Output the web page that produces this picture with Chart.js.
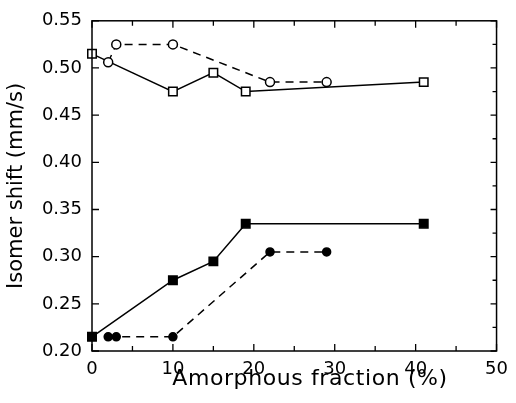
<!DOCTYPE html>
<html>
<head>
<meta charset="utf-8">
<script src="https://cdn.jsdelivr.net/npm/chart.js@4/dist/chart.umd.min.js"></script>
<style>
  html, body { margin: 0; padding: 0; background: #fff; }
  #wrap { width: 516px; height: 403px; }
</style>
</head>
<body>
<div id="wrap"><canvas id="chart" width="516" height="403"></canvas></div>
<script>
// Данные графика: аморфная доля (%) и изомерный сдвиг (мм/с)
const openSquareX = [0, 10, 15, 19, 41];
const openSquareY = [0.515, 0.475, 0.495, 0.475, 0.485];

const openCircleX = [2, 3, 10, 22, 29];
const openCircleY = [0.506, 0.525, 0.525, 0.485, 0.485];

const filledSquareX = [0, 10, 15, 19, 41];
const filledSquareY = [0.215, 0.275, 0.295, 0.335, 0.335];

const filledCircleX = [2, 3, 10, 22, 29];
const filledCircleY = [0.215, 0.215, 0.215, 0.305, 0.305];

const xTicks = [0, 10, 20, 30, 40, 50];
const yTicks = [0.20, 0.25, 0.30, 0.35, 0.40, 0.45, 0.50, 0.55];

const xTitle = 'Amorphous fraction (%)';
const yTitle = 'Isomer shift (mm/s)';

const FONT = 'DejaVu Sans';

function toPoints(xs, ys) {
  return xs.map((x, i) => ({ x: x, y: ys[i] }));
}

function makeSeries(xs, ys, style, filled, dashed) {
  return {
    data: toPoints(xs, ys),
    showLine: true,
    borderColor: '#000',
    borderWidth: 1.5,
    borderDash: dashed ? [8, 6] : [],
    pointStyle: style,
    pointRadius: style === 'rect' ? 6 : (filled ? 4 : 4.5),
    pointBorderWidth: 1.5,
    pointBorderColor: '#000',
    pointBackgroundColor: filled ? '#000' : '#fff',
    clip: false
  };
}

// Белый фон, рамка, внутренние засечки и подпись оси X
const framePlugin = {
  id: 'frame',
  beforeDraw(chart) {
    const ctx = chart.ctx;
    ctx.save();
    ctx.fillStyle = '#fff';
    ctx.fillRect(0, 0, chart.width, chart.height);
    ctx.restore();
  },
  afterDraw(chart) {
    const ctx = chart.ctx;
    const a = chart.chartArea;
    const xs = chart.scales.x;
    const ys = chart.scales.y;
    ctx.save();
    ctx.strokeStyle = '#000';
    ctx.lineWidth = 1.5;
    ctx.strokeRect(a.left, a.top, a.right - a.left, a.bottom - a.top);

    ctx.lineWidth = 1.3;
    ctx.beginPath();
    for (let v = 0; v <= 50; v += 5) {
      const px = xs.getPixelForValue(v);
      const len = v % 10 === 0 ? 7 : 5;
      ctx.moveTo(px, a.bottom); ctx.lineTo(px, a.bottom - len);
      ctx.moveTo(px, a.top); ctx.lineTo(px, a.top + len);
    }
    for (let i = 0; i <= 14; i++) {
      const v = 0.2 + i * 0.025;
      const py = ys.getPixelForValue(v);
      if (i % 2 === 0) {
        ctx.moveTo(a.left, py); ctx.lineTo(a.left + 7, py);
      }
      ctx.moveTo(a.right, py); ctx.lineTo(a.right - (i % 2 === 0 ? 6 : 4), py);
    }
    ctx.stroke();

    ctx.fillStyle = '#000';
    ctx.font = '22px "' + FONT + '"';
    ctx.letterSpacing = '0.6px';
    ctx.textAlign = 'center';
    ctx.textBaseline = 'alphabetic';
    ctx.fillText(xTitle, 310, 385);
    ctx.restore();
  }
};

new Chart(document.getElementById('chart'), {
  type: 'scatter',
  data: {
    datasets: [
      makeSeries(openCircleX, openCircleY, 'circle', false, true),
      makeSeries(openSquareX, openSquareY, 'rect', false, false),
      makeSeries(filledCircleX, filledCircleY, 'circle', true, true),
      makeSeries(filledSquareX, filledSquareY, 'rect', true, false)
    ]
  },
  options: {
    responsive: false,
    animation: false,
    layout: { padding: { left: 0, right: 11, top: 17, bottom: 0 } },
    plugins: {
      legend: { display: false },
      tooltip: { enabled: false }
    },
    scales: {
      x: {
        type: 'linear',
        min: 0,
        max: 50,
        afterFit(scale) { scale.height = 52; },
        afterBuildTicks(scale) { scale.ticks = xTicks.map(v => ({ value: v })); },
        grid: { display: false, drawTicks: false },
        border: { display: false },
        ticks: {
          color: '#000',
          padding: 8,
          font: { family: FONT, size: 18 }
        }
      },
      y: {
        type: 'linear',
        min: 0.2,
        max: 0.55,
        afterFit(scale) { scale.width = 92; },
        afterBuildTicks(scale) { scale.ticks = yTicks.map(v => ({ value: v })); },
        grid: { display: false, drawTicks: false },
        border: { display: false },
        ticks: {
          color: '#000',
          padding: 10,
          font: { family: FONT, size: 18 },
          callback: v => Number(v).toFixed(2)
        },
        title: {
          display: true,
          text: yTitle,
          color: '#000',
          padding: { top: 4, bottom: 0 },
          font: { family: FONT, size: 21 }
        }
      }
    }
  },
  plugins: [framePlugin]
});
</script>
</body>
</html>
